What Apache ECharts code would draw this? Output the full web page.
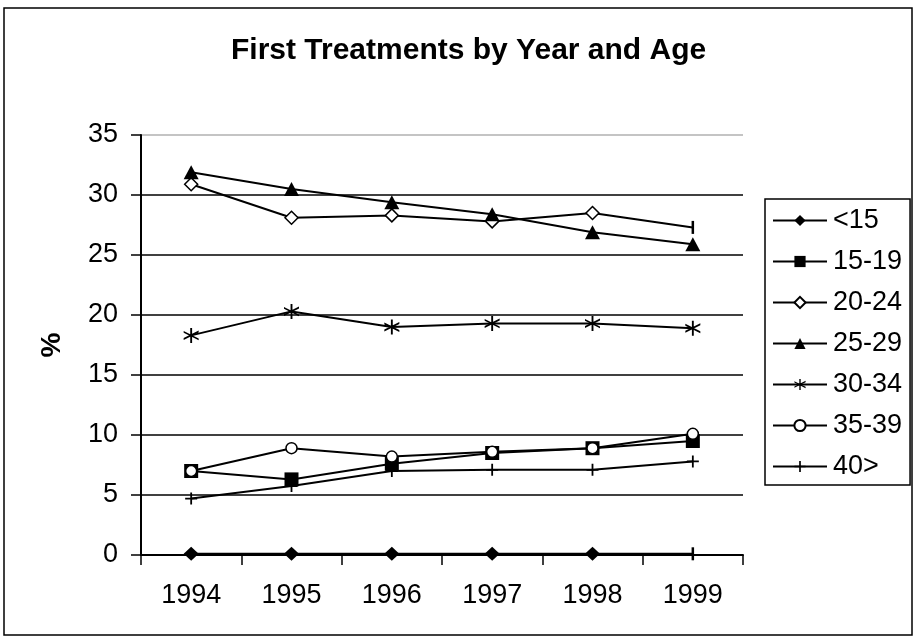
<!DOCTYPE html>
<html>
<head>
<meta charset="utf-8">
<script src="https://cdn.jsdelivr.net/npm/echarts@6/dist/echarts.min.js"></script>
<style>
html,body{margin:0;padding:0;background:#fff;}
#chart{width:915px;height:639px;}
</style>
</head>
<body>
<div id="chart"></div>
<script>
var years = ['1994','1995','1996','1997','1998','1999'];
var seriesNames = ['<15','15-19','20-24','25-29','30-34','35-39','40>'];
var under15 = [0.1, 0.1, 0.1, 0.1, 0.1, 0.1];
var age15to19 = [7.0, 6.3, 7.6, 8.5, 8.9, 9.5];
var age20to24 = [30.9, 28.1, 28.3, 27.8, 28.5, 27.3];
var age25to29 = [31.9, 30.5, 29.4, 28.4, 26.9, 25.9];
var age30to34 = [18.3, 20.3, 19.0, 19.3, 19.3, 18.9];
var age35to39 = [7.0, 8.9, 8.2, 8.6, 8.9, 10.1];
var age40plus = [4.7, 5.75, 7.0, 7.1, 7.1, 7.8];
var yTicks = [0, 5, 10, 15, 20, 25, 30, 35];

var FONT = '"Liberation Sans", Arial, sans-serif';
var BAR = 'path://M0,0h2v12h-2z';
var ASTER = 'path://M8.75,0h2.5v20h-2.5z M0,4L20,14L20,16.6L0,6.6z M0,13.4L20,3.4L20,6L0,16z';
var PLUS = 'path://M8.5,0h3v20h-3z M0,8.5h20v3h-20z';

function withLastBar(arr) {
  return arr.map(function (v, i) {
    if (i === arr.length - 1) {
      return { value: v, symbol: BAR, symbolSize: [2.5, 13], itemStyle: { color: '#000', borderWidth: 0 } };
    }
    return v;
  });
}

function mk(name, data, symbol, size, fill, borderWidth) {
  return {
    name: name,
    type: 'line',
    data: data,
    symbol: symbol,
    symbolSize: size,
    showAllSymbol: true,
    lineStyle: { color: '#000', width: 2 },
    itemStyle: { color: fill, borderColor: '#000', borderWidth: borderWidth },
    emphasis: { disabled: true },
    animation: false
  };
}

var chart = echarts.init(document.getElementById('chart'), null, { renderer: 'canvas' });
chart.setOption({
  backgroundColor: '#fff',
  animation: false,
  title: {
    text: 'First Treatments by Year and Age',
    left: 231,
    top: 36,
    padding: 0,
    textStyle: { fontFamily: FONT, fontWeight: 'bold', fontSize: 30, color: '#000' }
  },
  graphic: [{
    type: 'rect',
    shape: { x: 4, y: 8, width: 908, height: 627 },
    style: { fill: 'none', stroke: '#000', lineWidth: 1.5 },
    silent: true,
    z: -10
  }],
  legend: {
    orient: 'vertical',
    left: 765,
    top: 199,
    padding: [8, 8, 5, 7],
    itemGap: 14,
    itemWidth: 54,
    itemHeight: 14,
    borderColor: '#000',
    borderWidth: 1.5,
    data: seriesNames,
    textStyle: { fontFamily: FONT, fontSize: 27, color: '#000', lineHeight: 27, padding: [0, 0, 0, 1] },
    selectedMode: false
  },
  grid: { left: 141, top: 135, width: 602, height: 420, containLabel: false },
  xAxis: {
    type: 'category',
    data: years,
    boundaryGap: true,
    axisLine: { lineStyle: { color: '#000', width: 2 } },
    axisTick: { show: true, length: 10, lineStyle: { color: '#000', width: 1.5 } },
    axisLabel: { fontFamily: FONT, fontSize: 27, color: '#000', margin: 27 }
  },
  yAxis: {
    type: 'value',
    min: 0,
    max: 35,
    interval: 5,
    name: '%',
    nameLocation: 'middle',
    nameRotate: 90,
    nameGap: 75,
    nameTextStyle: { fontFamily: FONT, fontWeight: 'bold', fontSize: 28, color: '#000' },
    axisLine: { show: true, lineStyle: { color: '#000', width: 2 } },
    axisTick: { show: true, length: 10, lineStyle: { color: '#000', width: 1.5 } },
    axisLabel: { fontFamily: FONT, fontSize: 27, color: '#000', margin: 23 },
    splitLine: { show: true, lineStyle: { color: ['#000','#000','#000','#000','#000','#000','#000','#b0b0b0'], width: 1.5 } }
  },
  series: [
    mk('<15', withLastBar(under15), 'diamond', [15, 14], '#000', 0),
    mk('15-19', age15to19, 'rect', 14, '#000', 0),
    mk('20-24', withLastBar(age20to24), 'diamond', [13, 13], '#fff', 1.5),
    mk('25-29', age25to29, 'triangle', [15, 14], '#000', 0),
    mk('30-34', age30to34, ASTER, [15, 15], '#000', 0),
    mk('35-39', age35to39, 'circle', 11, '#fff', 1.5),
    mk('40>', age40plus, PLUS, [12, 12], '#000', 0)
  ]
});
</script>
</body>
</html>
